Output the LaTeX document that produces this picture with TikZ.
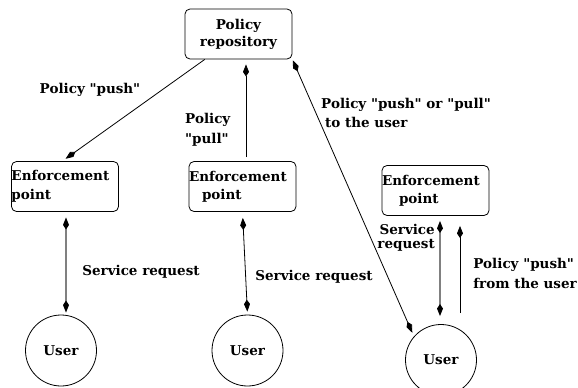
\documentclass[tikz,border=0pt]{standalone}
\usepackage{fontspec}
\setmainfont{DejaVu Serif}[Ligatures=TeXOff]
\usetikzlibrary{arrows.meta}

\begin{document}
\begin{tikzpicture}[x=1pt,y=-1pt,>={Kite[length=12pt,width=6pt,inset=4.5pt,color=black]},font=\bfseries\fontsize{13.5}{17}\selectfont]
 \tikzstyle{box} = [draw=black,line width=0.8pt,rounded corners=5pt,minimum width=107pt,minimum height=50pt,inner sep=0pt]
 \tikzstyle{epbox} = [box,text width=107pt,align=left]
 \tikzstyle{user} = [draw=black,line width=0.8pt,circle,minimum size=71pt,inner sep=0pt]
 \tikzstyle{link} = [black,line width=0.8pt]
 \tikzstyle{request} = [gray,line width=1.4pt]
 \tikzstyle{lbl} = [inner sep=0pt,align=left]

 \useasboundingbox (0,0) rectangle (578,388);

 % Boxes
 \node[box,align=center] (repo) at (238.5,34) {Policy\\repository};
 \node[epbox] (ep1) at (65,186.5) {Enforcement\\[2pt]point};
 \node[epbox] (ep2) at (242.5,186.5) {Enforcement\\[1pt]\hspace{13pt}point};
 \node[epbox] (ep3) at (435.5,190.5) {Enforcement\\[1pt]\hspace{17pt}point};

 % Users
 \node[user] (user1) at (61,350.5) {User};
 \node[user] (user2) at (247.5,350.5) {User};
 \node[user] (user3) at (441,360) {User};

 % Policy flows
 \draw[link,->,shorten >=4pt] (repo.217) -- (ep1.96);
 \draw[link,->,shorten <=4pt,shorten >=5pt] ([xshift=3.5pt]ep2.north) -- ([xshift=7.5pt]repo.south);
 \draw[link,<->,shorten <=1pt,shorten >=4pt] (repo.south east) -- (user3.139);
 \draw[link,->,shorten <=11pt,shorten >=10pt] ([xshift=19pt]user3.north) -- ([xshift=19pt]user3.north |- ep3.south);

 % Service requests
 \draw[request,<->,shorten <=5.5pt,shorten >=2pt] ([xshift=1pt]ep1.south) -- ([xshift=1pt]ep1.south |- user1.north);
 \draw[link,<->,shorten <=6pt,shorten >=3pt] (ep2.south) -- (user2.north);
 \draw[request,<->,shorten <=5pt,shorten >=8pt] ([xshift=-1pt]ep3.south -| user3.north) -- ([xshift=-1pt]user3.north);

 % Labels
 \node[lbl] (pushlbl) at (90,90) {Policy "push"};
 \node[lbl,anchor=west] (pulllbl) at (185,130) {Policy\\[3pt]"pull"};
 \node[lbl,anchor=west] (userlbl) at (321,112.5) {Policy "push" or "pull"\\[2pt]\hspace{4pt}to the user};
 \node[lbl] (req1) at (141,272) {Service request};
 \node[lbl] (req2) at (314,277) {Service request};
 \node[lbl,anchor=east,align=right] (req3) at (435,238) {Service\\[-3.5pt]request};
 \node[lbl,anchor=east] (fromlbl) at (577,273) {Policy "push"\\[3pt]from the user};

\end{tikzpicture}
\end{document}
